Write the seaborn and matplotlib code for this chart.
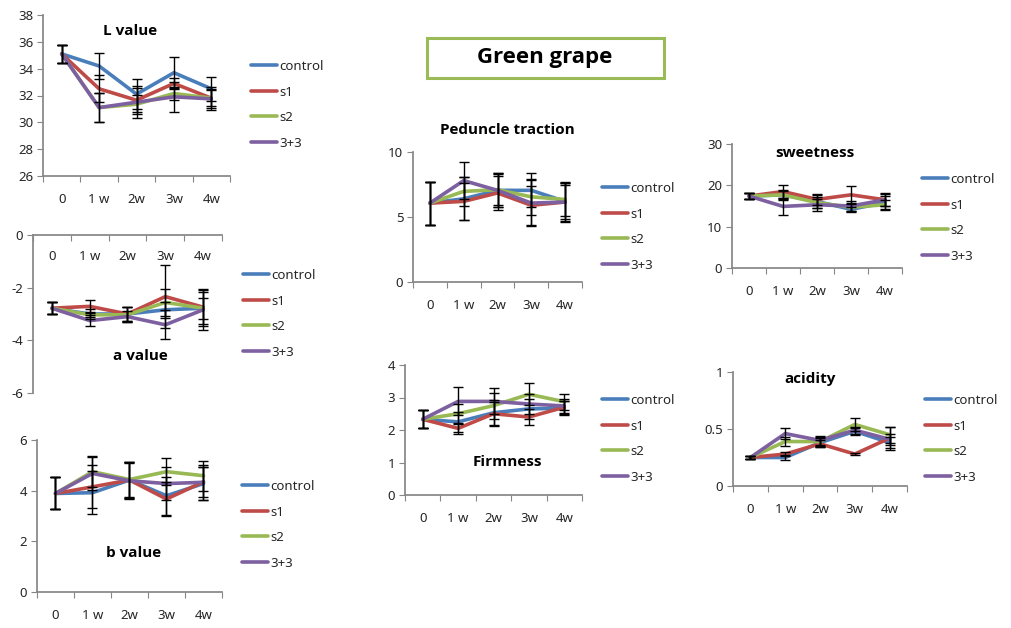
import numpy as np
import pandas as pd
import matplotlib
matplotlib.use("Agg")
import matplotlib.pyplot as plt
from matplotlib.lines import Line2D
from matplotlib.patches import Rectangle
import seaborn as sns

sns.set_theme(style="white")
plt.rcParams['font.family'] = ['Noto Sans', 'DejaVu Sans']

categories = ["0", "1 w", "2w", "3w", "4w"]
series = ["control", "s1", "s2", "3+3"]
colors = ["#4A7EBB", "#BE4B48", "#98B954", "#7D60A0"]

# L value
L_vals = {"control": [35.1, 34.2, 32.1, 33.7, 32.5],
          "s1":      [35.1, 32.5, 31.65, 32.9, 31.8],
          "s2":      [35.1, 31.1, 31.35, 32.15, 31.8],
          "3+3":     [35.1, 31.1, 31.5, 31.9, 31.75]}
L_errs = {"control": [0.7, 0.95, 1.1, 1.15, 0.9],
          "s1":      [0.7, 1.0, 0.9, 0.4, 0.7],
          "s2":      [0.7, 1.1, 0.7, 0.5, 0.6],
          "3+3":     [0.7, 1.05, 1.2, 1.1, 0.85]}
# a value
a_vals = {"control": [-2.78, -3.0, -3.0, -2.84, -2.78],
          "s1":      [-2.78, -2.71, -3.0, -2.34, -2.74],
          "s2":      [-2.78, -3.03, -3.03, -2.56, -2.78],
          "3+3":     [-2.78, -3.25, -3.1, -3.41, -2.84]}
a_errs = {"control": [0.22, 0.2, 0.28, 0.3, 0.6],
          "s1":      [0.22, 0.25, 0.28, 1.2, 0.7],
          "s2":      [0.22, 0.1, 0.28, 0.5, 0.4],
          "3+3":     [0.22, 0.22, 0.22, 0.55, 0.75]}
# b value
b_vals = {"control": [3.89, 3.92, 4.42, 3.8, 4.28],
          "s1":      [3.89, 4.15, 4.42, 3.67, 4.35],
          "s2":      [3.89, 4.75, 4.44, 4.75, 4.59],
          "3+3":     [3.89, 4.68, 4.39, 4.28, 4.33]}
b_errs = {"control": [0.63, 0.85, 0.7, 0.75, 0.65],
          "s1":      [0.63, 0.85, 0.72, 0.67, 0.6],
          "s2":      [0.63, 0.6, 0.7, 0.52, 0.6],
          "3+3":     [0.63, 0.65, 0.72, 0.65, 0.7]}
# Peduncle traction
p_vals = {"control": [6.07, 6.4, 7.05, 7.05, 6.2],
          "s1":      [6.07, 6.2, 6.85, 5.9, 6.15],
          "s2":      [6.07, 6.97, 7.1, 6.55, 6.35],
          "3+3":     [6.07, 7.8, 7.05, 6.07, 6.15]}
p_errs = {"control": [1.65, 1.65, 1.3, 1.3, 1.5],
          "s1":      [1.65, 1.4, 1.3, 1.5, 1.3],
          "s2":      [1.65, 1.1, 1.2, 1.4, 1.3],
          "3+3":     [1.65, 1.45, 1.3, 1.8, 1.5]}
# Firmness
f_vals = {"control": [2.33, 2.25, 2.53, 2.65, 2.67],
          "s1":      [2.33, 2.05, 2.5, 2.4, 2.7],
          "s2":      [2.33, 2.5, 2.75, 3.1, 2.87],
          "3+3":     [2.33, 2.88, 2.88, 2.8, 2.74]}
f_errs = {"control": [0.28, 0.3, 0.4, 0.3, 0.22],
          "s1":      [0.28, 0.16, 0.35, 0.25, 0.2],
          "s2":      [0.28, 0.3, 0.4, 0.34, 0.25],
          "3+3":     [0.28, 0.43, 0.4, 0.3, 0.22]}
# sweetness
s_vals = {"control": [17.4, 17.7, 16.1, 14.2, 15.8],
          "s1":      [17.4, 18.5, 16.6, 17.7, 16.5],
          "s2":      [17.4, 17.7, 15.8, 14.7, 15.3],
          "3+3":     [17.4, 14.9, 15.3, 15.0, 16.5]}
s_errs = {"control": [0.7, 1.2, 1.5, 0.6, 1.6],
          "s1":      [0.7, 1.5, 1.3, 2.2, 1.6],
          "s2":      [0.7, 1.0, 1.4, 1.0, 1.2],
          "3+3":     [0.7, 2.0, 1.5, 1.2, 1.5]}
# acidity
c_vals = {"control": [0.25, 0.25, 0.38, 0.48, 0.38],
          "s1":      [0.25, 0.28, 0.37, 0.28, 0.42],
          "s2":      [0.25, 0.39, 0.39, 0.54, 0.45],
          "3+3":     [0.25, 0.46, 0.40, 0.49, 0.41]}
c_errs = {"control": [0.01, 0.02, 0.04, 0.03, 0.05],
          "s1":      [0.01, 0.02, 0.03, 0.01, 0.1],
          "s2":      [0.01, 0.04, 0.04, 0.06, 0.07],
          "3+3":     [0.01, 0.05, 0.04, 0.03, 0.05]}

W, H = 1012, 628
fig = plt.figure(figsize=(W / 100, H / 100), dpi=100)
fig.patch.set_facecolor("white")

AX_COLOR = "#868686"
TXT = "#262626"
BOLD_FAMILY = ["Open Sans", "DejaVu Sans"]


def px_rect(x0, y0, x1, y1):
    return [x0 / W, 1 - y1 / H, (x1 - x0) / W, (y1 - y0) / H]


def panel(box, vals, errs, ylim, yticks, yticklabels, title, title_xy, leg_xy, top_axis=False):
    ax = fig.add_axes(px_rect(*box))
    rows = []
    for s in series:
        for i, v in enumerate(vals[s]):
            rows.append({"x": i, "v": v, "series": s})
    df = pd.DataFrame(rows)
    sns.lineplot(data=df, x="x", y="v", hue="series", hue_order=series,
                 palette=colors, linewidth=2.6, ax=ax, legend=False, sort=False)
    xs = np.arange(len(categories))
    for s in series:
        ax.errorbar(xs, vals[s], yerr=errs[s], fmt="none", ecolor="black",
                    elinewidth=1.0, capsize=3.5, capthick=1.0, zorder=5)
    ax.set_xlim(-0.5, len(categories) - 0.5)
    ax.set_ylim(*ylim)
    ax.set_yticks(yticks)
    ax.set_yticklabels(yticklabels)
    ax.set_xticks(xs)
    ax.set_xticklabels(categories)
    ax.set_xticks(np.arange(-0.5, len(categories)), minor=True)
    ax.set_xlabel("")
    ax.set_ylabel("")
    for sp in ax.spines.values():
        sp.set_visible(False)
    ax.spines["left"].set_visible(True)
    ax.spines["left"].set_color(AX_COLOR)
    ax.tick_params(axis="y", left=True, length=4, width=0.8, color=AX_COLOR,
                   labelsize=9.5, labelcolor=TXT, pad=3)
    if top_axis:
        ax.spines["top"].set_visible(True)
        ax.spines["top"].set_color(AX_COLOR)
        ax.tick_params(axis="x", which="major", length=0, top=False, bottom=False,
                       labeltop=True, labelbottom=False, labelsize=9.5,
                       labelcolor=TXT, pad=-20)
        ax.tick_params(axis="x", which="minor", length=4, width=0.8, color=AX_COLOR,
                       top=True, bottom=False, direction="in")
    else:
        ax.spines["bottom"].set_visible(True)
        ax.spines["bottom"].set_color(AX_COLOR)
        ax.tick_params(axis="x", which="major", length=0, labelsize=9.5,
                       labelcolor=TXT, pad=12)
        ax.tick_params(axis="x", which="minor", length=4, width=0.8,
                       color=AX_COLOR, bottom=True)
    ax.set_facecolor("white")
    ax.text(title_xy[0], title_xy[1], title, transform=ax.transAxes, ha="center",
            va="center", fontsize=11, fontweight="bold", color="black",
            family=BOLD_FAMILY)
    handles = [Line2D([0], [0], color=c, lw=2.6) for c in colors]
    fig.legend(handles, series, loc="upper left",
               bbox_to_anchor=(leg_xy[0] / W, 1 - leg_xy[1] / H),
               frameon=False, fontsize=9.5, handlelength=2.0, handletextpad=0.15,
               labelspacing=0.95, borderpad=0, borderaxespad=0,
               labelcolor=TXT)
    return ax


panel((43, 15, 230, 176), L_vals, L_errs, (26, 38), [26, 28, 30, 32, 34, 36, 38],
      ["26", "28", "30", "32", "34", "36", "38"], "L value", (0.465, 0.90), (251, 60))
panel((33, 235, 222, 393), a_vals, a_errs, (-6, 0), [-6, -4, -2, 0],
      ["-6", "-4", "-2", "0"], "a value", (0.566, 0.234), (243, 269), top_axis=True)
panel((37, 440, 222, 592), b_vals, b_errs, (0, 6), [0, 2, 4, 6],
      ["0", "2", "4", "6"], "b value", (0.52, 0.257), (242, 480))
panel((413, 152, 582, 282), p_vals, p_errs, (0, 10), [0, 5, 10],
      ["0", "5", "10"], "Peduncle traction", (0.556, 1.17), (602, 182))
panel((405, 365, 582, 495), f_vals, f_errs, (0, 4), [0, 1, 2, 3, 4],
      ["0", "1", "2", "3", "4"], "Firmness", (0.576, 0.254), (602, 394))
panel((732, 144, 902, 268), s_vals, s_errs, (0, 30), [0, 10, 20, 30],
      ["0", "10", "20", "30"], "sweetness", (0.488, 0.927), (922, 173))
panel((733, 372, 907, 486), c_vals, c_errs, (0, 1), [0, 0.5, 1],
      ["0", "0.5", "1"], "acidity", (0.443, 0.94), (925, 394))

# Title box
fig.patches.append(Rectangle((427 / W, 1 - 78 / H), (664 - 427) / W, 40 / H,
                             transform=fig.transFigure, fill=False,
                             edgecolor="#9BBB59", linewidth=2.2))
fig.text(545 / W, 1 - 58 / H, "Green grape", ha="center", va="center",
         fontsize=16, fontweight="bold", color="black", family=BOLD_FAMILY)

fig.savefig("out.png", dpi=100, facecolor="white")
